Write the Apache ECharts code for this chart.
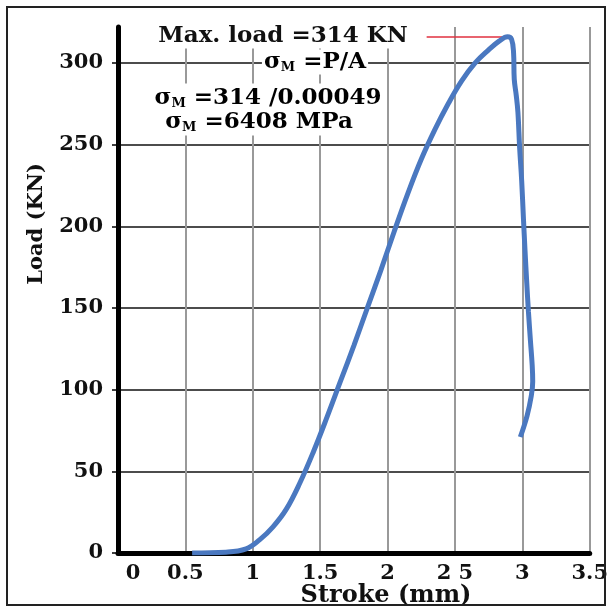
<!DOCTYPE html>
<html>
<head>
<meta charset="utf-8">
<script src="https://cdn.jsdelivr.net/npm/echarts@6/dist/echarts.min.js"></script>
<style>html,body{margin:0;padding:0;background:#fff;}#c{width:611px;height:612px;}</style>
</head>
<body>
<div id="c"></div>
<script>
// ---- data ----
const strokeMm = [0.55, 0.8, 0.95, 1.05, 1.15, 1.25, 1.35, 1.45, 1.55, 1.65, 1.75, 1.85, 1.95, 2.05, 2.15, 2.25, 2.35, 2.45, 2.55, 2.65, 2.75, 2.83, 2.89, 2.92, 2.935, 2.94, 2.955, 2.967, 2.98, 2.995, 3.008, 3.02, 3.033, 3.045, 3.06, 3.073, 3.077, 3.066, 3.035, 2.985];
const loadKN   = [0,    0.5, 2.5,  8,    16,   27,   43,   62,   83,   105,  127,  150,  173,  197,  220,  241,  259,  275,  289,  300,  308,  313.5, 316, 314.5, 306,  290,   280,   270,   248,  228,   205,   185,  165,   148,   130,  115,   105,   96,    84,    71];
const xTickLabels = ['0', '0.5', '1', '1.5', '2', '2 5', '3', '3.5'];
const yTickValues = [0, 50, 100, 150, 200, 250, 300];
const maxLoad = 316;
const maxLineFrom = 2.29;
const maxLineTo = 2.88;
const annoMax = 'Max. load =314 KN';
const annoPA = '{s|σ}{sub|M}{s| =P/A}';
const annoCalc = '{s|σ}{sub|M}{s| =314 /0.00049}';
const annoRes = '{s|σ}{sub|M}{s| =6408 MPa}';

const seriesData = strokeMm.map((x, i) => [x, loadKN[i]]);
const FONT = 'DejaVu Serif';
const richS = {
  s: {fontFamily: FONT, fontWeight: 'bold', fontSize: 23, color: '#111', lineHeight: 25},
  sub: {fontFamily: FONT, fontWeight: 'bold', fontSize: 13, color: '#111', verticalAlign: 'bottom', lineHeight: 25}
};

const chart = echarts.init(document.getElementById('c'), null, {renderer: 'canvas'});
chart.setOption({
  backgroundColor: '#fff',
  animation: false,
  grid: {left: 118, right: 14, top: 27, bottom: 59},
  xAxis: {
    type: 'value', min: 0, max: 3.5, interval: 0.5,
    axisLine: {show: true, onZero: false, lineStyle: {color: '#000', width: 5}},
    axisTick: {show: false},
    splitLine: {show: true, showMinLine: false, lineStyle: {color: '#999', width: 2}},
    axisLabel: {
      margin: 10,
      formatter: v => {
        const t = xTickLabels[Math.round(v / 0.5)];
        return v === 0 ? '{z|' + t + '}' : '{n|' + t + '}';
      },
      rich: {
        n: {fontFamily: FONT, fontWeight: 'bold', fontSize: 21, color: '#111'},
        z: {fontFamily: FONT, fontWeight: 'bold', fontSize: 21, color: '#111', padding: [0, 0, 0, 30]}
      }
    }
  },
  yAxis: {
    type: 'value', min: 0, max: 322, interval: 50,
    axisLine: {show: true, lineStyle: {color: '#000', width: 5}},
    axisTick: {show: true, length: 6, customValues: yTickValues, lineStyle: {color: '#000', width: 1.5}},
    splitLine: {show: true, showMinLine: false, lineStyle: {color: '#111', width: 1.5}},
    axisLabel: {
      margin: 15, customValues: yTickValues,
      fontFamily: FONT, fontWeight: 'bold', fontSize: 21, color: '#111'
    }
  },
  series: [{
    type: 'line',
    data: seriesData,
    showSymbol: false,
    smooth: 0.4,
    lineStyle: {color: '#4a78c0', width: 5},
    z: 5,
    markLine: {
      silent: true,
      symbol: ['none', 'none'],
      label: {show: false},
      lineStyle: {color: '#e0303f', width: 1.5, type: 'solid'},
      data: [[{coord: [maxLineFrom, maxLoad]}, {coord: [maxLineTo, maxLoad]}]]
    }
  }],
  graphic: [
    {type: 'rect', z: 200, silent: true, shape: {x: 7, y: 7, width: 598, height: 598},
     style: {fill: 'none', stroke: '#222', lineWidth: 2}},
    {type: 'text', z: 100, x: 283, y: 36, silent: true,
     style: {text: annoMax, fontFamily: FONT, fontWeight: 'bold', fontSize: 23, fill: '#111',
             align: 'center', verticalAlign: 'middle', backgroundColor: '#fff', padding: [1, 3]}},
    {type: 'text', z: 100, x: 315, y: 62, silent: true,
     style: {text: annoPA, rich: richS, align: 'center', verticalAlign: 'middle', backgroundColor: '#fff', padding: [0, 2]}},
    {type: 'text', z: 100, x: 268, y: 98, silent: true,
     style: {text: annoCalc, rich: richS, align: 'center', verticalAlign: 'middle', backgroundColor: '#fff', padding: [2, 3]}},
    {type: 'text', z: 100, x: 259, y: 122, silent: true,
     style: {text: annoRes, rich: richS, align: 'center', verticalAlign: 'middle', backgroundColor: '#fff', padding: [1, 3]}},
    {type: 'text', z: 100, x: 37, y: 224, rotation: Math.PI / 2, silent: true,
     style: {text: 'Load (KN)', fontFamily: FONT, fontWeight: 'bold', fontSize: 21, fill: '#111',
             align: 'center', verticalAlign: 'middle'}},
    {type: 'text', z: 100, x: 386, y: 596, silent: true,
     style: {text: 'Stroke (mm)', fontFamily: FONT, fontWeight: 'bold', fontSize: 24, fill: '#111',
             align: 'center', verticalAlign: 'middle'}}
  ]
});
</script>
</body>
</html>
